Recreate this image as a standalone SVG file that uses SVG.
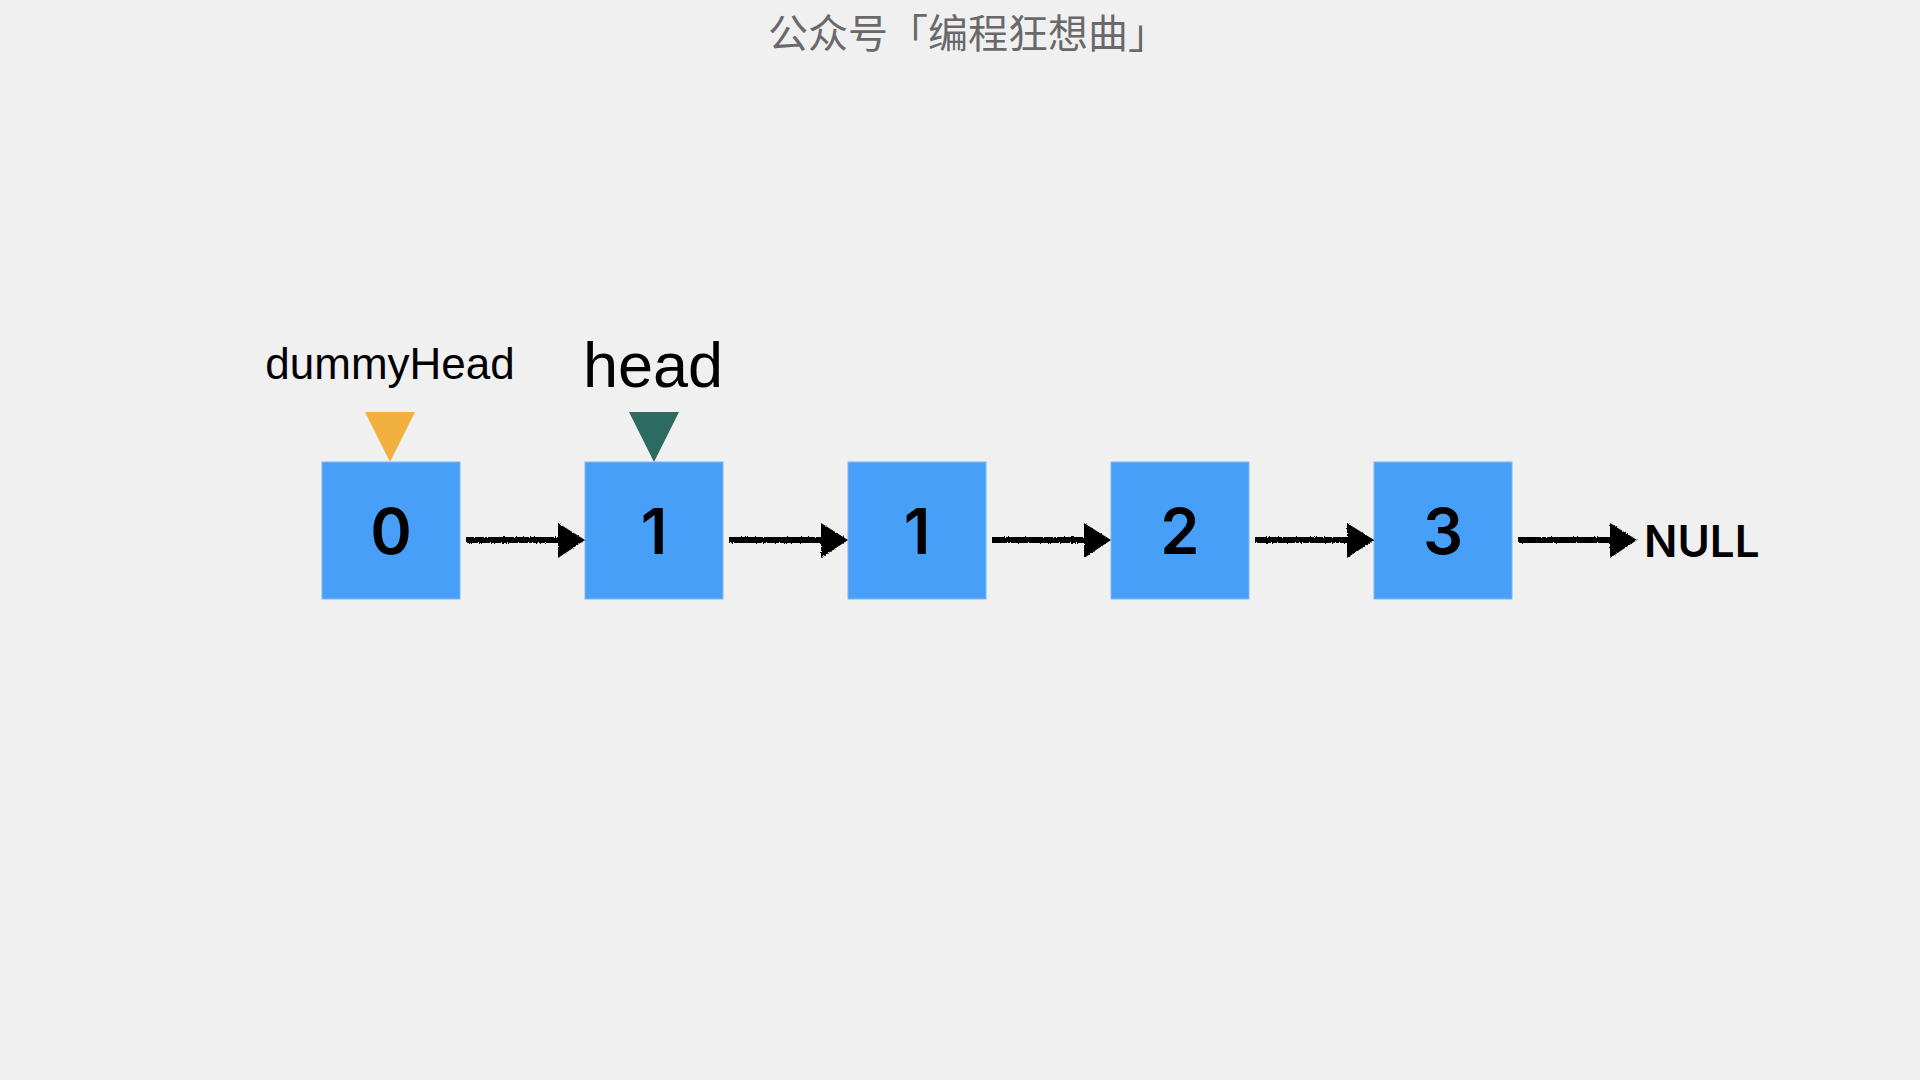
<svg xmlns="http://www.w3.org/2000/svg" width="1920" height="1080" viewBox="0 0 1920 1080">
  <defs>
    <style>
      .box { fill: #489ff8; stroke: #7ab8f7; stroke-width: 1; }
      .num { font-family: Inter, "Noto Sans", sans-serif; font-weight: 600; font-size: 63px; fill: #000; text-anchor: middle; }
      .lbl { font-family: "Liberation Sans", Arial, sans-serif; fill: #000; text-anchor: middle; }
      .link { stroke: #000; stroke-width: 6; fill: none; stroke-linecap: butt; }
      .head { fill: #000; }
    </style>
    <filter id="rough" x="-5%" y="-50%" width="110%" height="200%">
      <feTurbulence type="fractalNoise" baseFrequency="0.9" numOctaves="2" seed="3" result="n"/>
      <feDisplacementMap in="SourceGraphic" in2="n" scale="2.5" xChannelSelector="R" yChannelSelector="G"/>
    </filter>
  </defs>
  <rect x="0" y="0" width="1920" height="1080" fill="#f0f0f0"/>

  <text id="title" x="968" y="48" font-family="'Noto Sans CJK SC', sans-serif" font-size="40" font-weight="400" fill="#69696b" text-anchor="middle">公众号「编程狂想曲」</text>

  <g id="pointer-dummyHead">
    <text class="lbl" x="390" y="379" font-size="44">dummyHead</text>
    <polygon points="365,412 415,412 390,462" fill="#f2b13f"/>
  </g>
  <g id="pointer-head">
    <text class="lbl" x="653" y="387" font-size="63">head</text>
    <polygon points="629,412 679,412 654,462" fill="#2d6a62"/>
  </g>

  <g id="node-0">
    <rect class="box" x="322" y="462" width="138" height="137"/>
    <text class="num" x="391" y="554">0</text>
  </g>
  <g id="node-1">
    <rect class="box" x="585" y="462" width="138" height="137"/>
    <text class="num" x="654" y="554">1</text>
  </g>
  <g id="node-2">
    <rect class="box" x="848" y="462" width="138" height="137"/>
    <text class="num" x="917" y="554">1</text>
  </g>
  <g id="node-3">
    <rect class="box" x="1111" y="462" width="138" height="137"/>
    <text class="num" x="1180" y="554">2</text>
  </g>
  <g id="node-4">
    <rect class="box" x="1374" y="462" width="138" height="137"/>
    <text class="num" x="1443" y="554">3</text>
  </g>
  <g id="node-null">
    <text x="1644" y="557" font-family="Inter, 'Noto Sans', sans-serif" font-weight="600" font-size="44" fill="#000">NULL</text>
  </g>

  <g id="connectors" filter="url(#rough)">
    <line class="link" x1="466" y1="540" x2="562" y2="540"/>
    <polygon class="head" points="558,523 585,540 558,558"/>
    <line class="link" x1="729" y1="540" x2="825" y2="540"/>
    <polygon class="head" points="821,523 848,540 821,558"/>
    <line class="link" x1="992" y1="540" x2="1088" y2="540"/>
    <polygon class="head" points="1084,523 1111,540 1084,558"/>
    <line class="link" x1="1255" y1="540" x2="1351" y2="540"/>
    <polygon class="head" points="1347,523 1374,540 1347,558"/>
    <line class="link" x1="1518" y1="540" x2="1614" y2="540"/>
    <polygon class="head" points="1610,523 1637,540 1610,558"/>
  </g>
</svg>
